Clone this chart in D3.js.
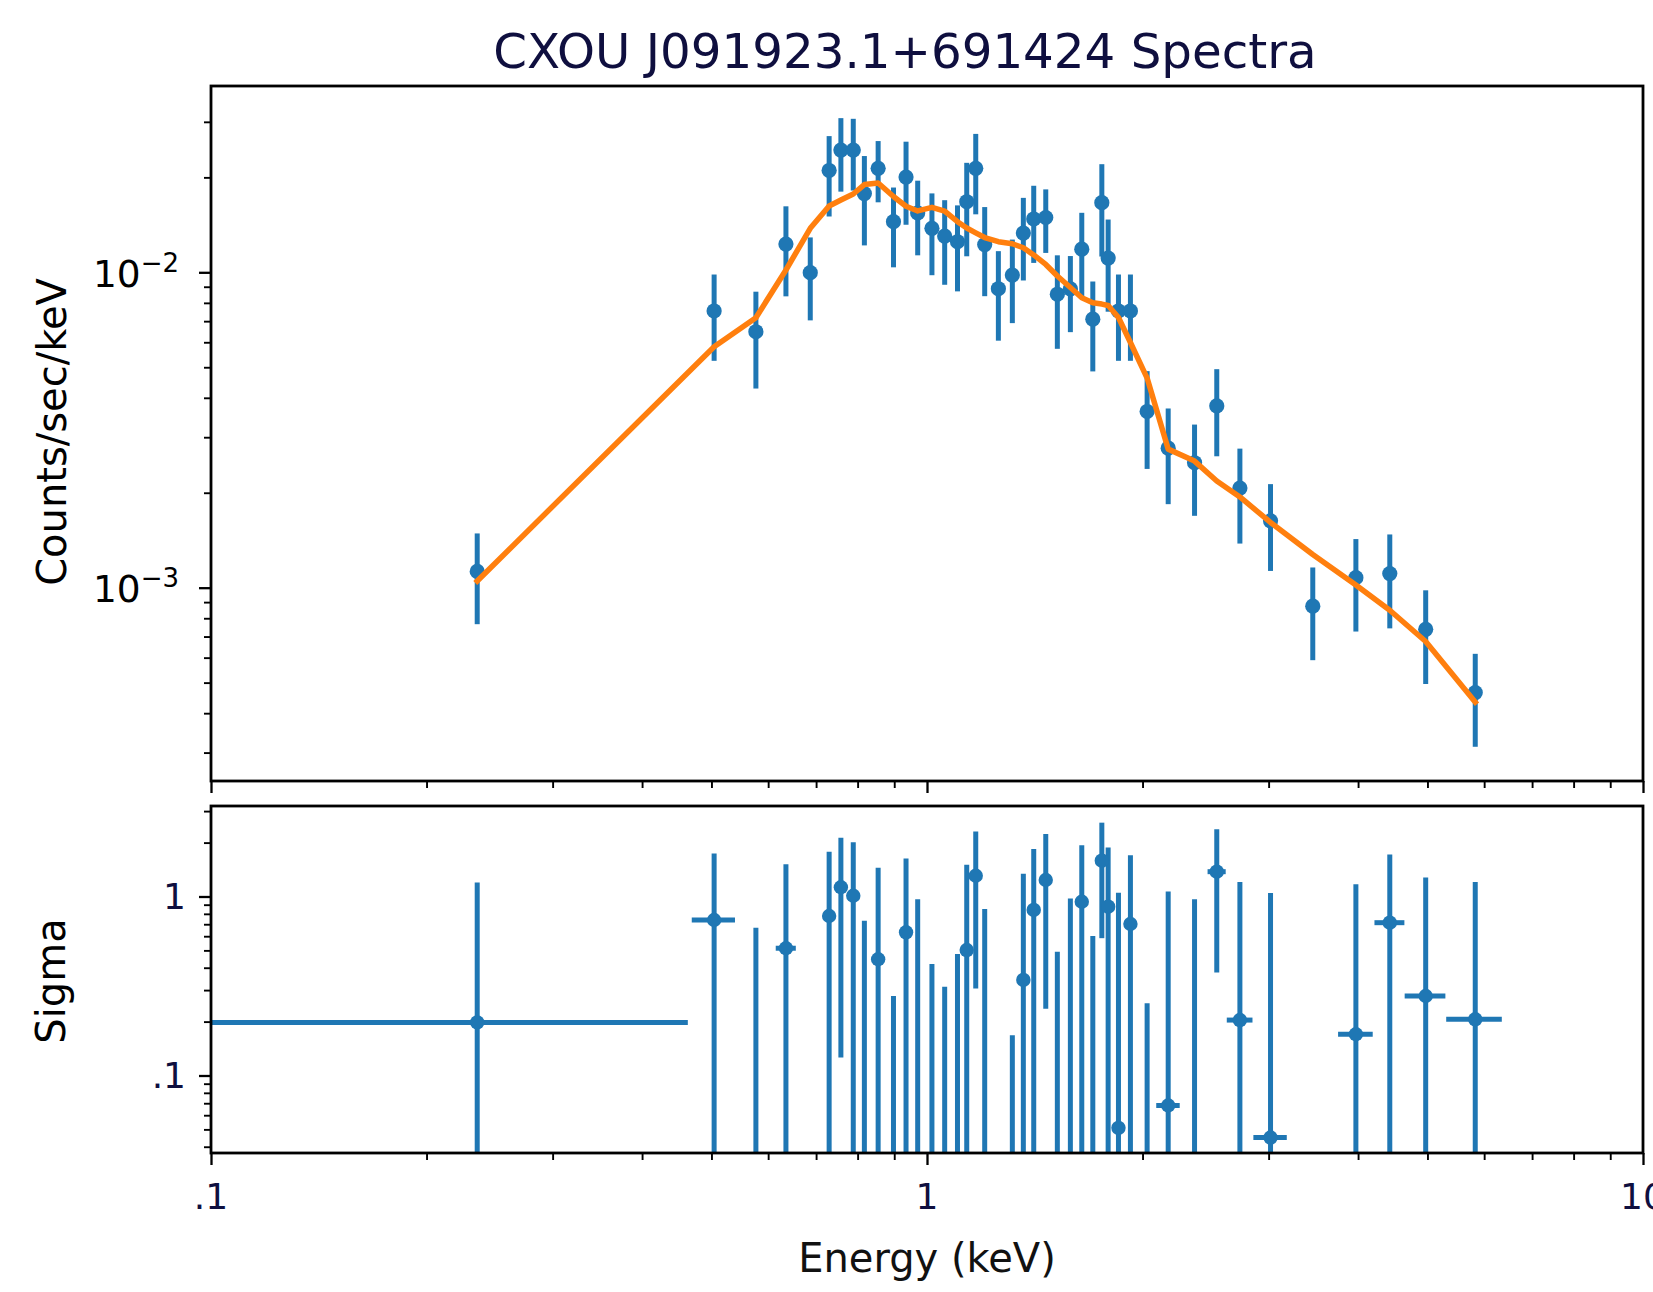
<!DOCTYPE html>
<html>
<head>
<meta charset="utf-8">
<script src="https://cdn.jsdelivr.net/npm/d3@7"></script>
<style>
  body { margin: 0; background: #ffffff; }
  svg { display: block; }
  text { font-family: "DejaVu Sans", sans-serif; }
</style>
</head>
<body>
<div id="chart"></div>
<script>
// ---------------- DATA ----------------
const energy = [0.2354, 0.5043, 0.5768, 0.6353, 0.6870, 0.7300, 0.7581, 0.7889, 0.8176, 0.8546,
                0.8978, 0.9348, 0.9705, 1.016, 1.0585, 1.1030, 1.1363, 1.1697, 1.2039, 1.2580,
                1.3158, 1.3632, 1.4095, 1.4651, 1.5207, 1.5858, 1.6450, 1.7044, 1.7546, 1.7906,
                1.8510, 1.9236, 2.0297, 2.1720, 2.3641, 2.5392, 2.7353, 3.0185, 3.4577, 3.9719,
                4.4294, 4.9716, 5.8305];
// half-width of the energy bins drawn in the residual panel (0 = hidden under the marker)
const energyErr = [0.228, 0.035, 0, 0.0205, 0, 0, 0, 0, 0, 0,
                   0, 0, 0, 0, 0, 0, 0, 0, 0, 0,
                   0, 0, 0, 0, 0, 0, 0, 0, 0, 0,
                   0, 0, 0, 0.082, 0, 0.074, 0.113, 0.162, 0, 0.221,
                   0.213, 0.325, 0.52];
const counts = [1.126e-3, 7.54e-3, 6.48e-3, 1.229e-2, 9.97e-3, 2.103e-2, 2.442e-2, 2.442e-2, 1.777e-2, 2.137e-2,
                1.447e-2, 2.005e-2, 1.542e-2, 1.379e-2, 1.303e-2, 1.250e-2, 1.674e-2, 2.137e-2, 1.225e-2, 8.87e-3,
                9.80e-3, 1.332e-2, 1.476e-2, 1.492e-2, 8.52e-3, 8.86e-3, 1.184e-2, 7.10e-3, 1.662e-2, 1.110e-2,
                7.54e-3, 7.54e-3, 3.62e-3, 2.77e-3, 2.49e-3, 3.77e-3, 2.07e-3, 1.630e-3, 8.74e-4, 1.076e-3,
                1.109e-3, 7.38e-4, 4.65e-4];
const countsErr = [0.36e-3, 2.30e-3, 2.20e-3, 3.90e-3, 2.93e-3, 6.0e-3, 6.4e-3, 6.25e-3, 5.6e-3, 4.7e-3,
                   4.1e-3, 5.9e-3, 4.1e-3, 4.0e-3, 3.9e-3, 3.8e-3, 5.5e-3, 6.1e-3, 3.85e-3, 2.8e-3,
                   2.9e-3, 3.9e-3, 4.05e-3, 3.4e-3, 2.8e-3, 2.4e-3, 3.6e-3, 2.25e-3, 5.4e-3, 3.6e-3,
                   2.3e-3, 2.3e-3, 1.24e-3, 0.93e-3, 0.80e-3, 1.16e-3, 0.69e-3, 0.50e-3, 0.285e-3, 0.35e-3,
                   0.366e-3, 0.243e-3, 0.152e-3];
const model = [1.050e-3, 5.81e-3, 7.18e-3, 1.017e-2, 1.379e-2, 1.623e-2, 1.695e-2, 1.771e-2, 1.898e-2, 1.919e-2,
               1.739e-2, 1.620e-2, 1.565e-2, 1.607e-2, 1.562e-2, 1.447e-2, 1.382e-2, 1.334e-2, 1.289e-2, 1.250e-2,
               1.232e-2, 1.196e-2, 1.135e-2, 1.059e-2, 9.73e-3, 8.95e-3, 8.30e-3, 8.01e-3, 7.93e-3, 7.85e-3,
               7.19e-3, 5.99e-3, 4.62e-3, 2.75e-3, 2.52e-3, 2.18e-3, 1.94e-3, 1.61e-3, 1.274e-3, 1.02e-3,
               8.48e-4, 6.75e-4, 4.34e-4];
// residuals in units of sigma (negative ones only show their upper error bar on the log axis)
const sigma = [0.198, 0.739, -0.33, 0.514, -1.30, 0.778, 1.126, 1.010, -0.267, 0.446,
               -0.722, 0.631, -0.036, -0.58, -0.687, -0.523, 0.502, 1.306, -0.148, -1.30,
               -0.832, 0.342, 0.841, 1.236, -0.508, -0.027, 0.935, -0.399, 1.585, 0.877,
               0.051, 0.702, -0.747, 0.068, -0.036, 1.376, 0.204, 0.045, -1.40, 0.170,
               0.714, 0.278, 0.206];
const SIGMA_ERR = 1;

const title = "CXOU J091923.1+691424 Spectra";
const xLabel = "Energy (keV)";
const yLabelTop = "Counts/sec/keV";
const yLabelBottom = "Sigma";
const xTickValues = [0.1, 1, 10];
const xTickLabels = [".1", "1", "10"];
const xMinorTicks = [0.2, 0.3, 0.4, 0.5, 0.6, 0.7, 0.8, 0.9, 2, 3, 4, 5, 6, 7, 8, 9];
const countTickValues = [1e-3, 1e-2];
const countTickExponents = ["\u22123", "\u22122"];
const countMinorTicks = [3e-4, 4e-4, 5e-4, 6e-4, 7e-4, 8e-4, 9e-4,
                         2e-3, 3e-3, 4e-3, 5e-3, 6e-3, 7e-3, 8e-3, 9e-3, 2e-2, 3e-2];
const sigmaTickValues = [0.1, 1];
const sigmaTickLabels = [".1", "1"];
const sigmaMinorTicks = [0.04, 0.05, 0.06, 0.07, 0.08, 0.09, 0.2, 0.3, 0.4, 0.5, 0.6, 0.7, 0.8, 0.9, 2, 3];

// ---------------- LAYOUT ----------------
const W = 1653, H = 1292;
const L = 211, R = 1643;
const topPanel = { top: 86, bottom: 781 };
const botPanel = { top: 806, bottom: 1153 };
const BLUE = "#1f77b4", ORANGE = "#ff7f0e", NAVY = "#0f0f3f";

const svg = d3.select("#chart").append("svg").attr("width", W).attr("height", H);

const x = d3.scaleLog().domain([0.1, 10]).range([L, R]);
const yTop = d3.scaleLog().domain([2.438e-4, 3.897e-2]).range([topPanel.bottom, topPanel.top]);
const yBot = d3.scaleLog().domain([0.0369, 3.203]).range([botPanel.bottom, botPanel.top]);

const defs = svg.append("defs");
defs.append("clipPath").attr("id", "clipTop").append("rect")
  .attr("x", L).attr("y", topPanel.top).attr("width", R - L).attr("height", topPanel.bottom - topPanel.top);
defs.append("clipPath").attr("id", "clipBot").append("rect")
  .attr("x", L).attr("y", botPanel.top).attr("width", R - L).attr("height", botPanel.bottom - botPanel.top);

const pts = energy.map((e, i) => ({ e, c: counts[i], ce: countsErr[i], m: model[i], s: sigma[i], xe: energyErr[i] }));

// ---------------- TOP PANEL ----------------
const gTop = svg.append("g").attr("clip-path", "url(#clipTop)");
gTop.selectAll("line.err").data(pts).enter().append("line")
  .attr("x1", d => x(d.e)).attr("x2", d => x(d.e))
  .attr("y1", d => yTop(d.c - d.ce)).attr("y2", d => yTop(d.c + d.ce))
  .attr("stroke", BLUE).attr("stroke-width", 5);
gTop.selectAll("circle").data(pts).enter().append("circle")
  .attr("cx", d => x(d.e)).attr("cy", d => yTop(d.c)).attr("r", 7.6).attr("fill", BLUE);
gTop.append("path").datum(pts)
  .attr("d", d3.line().x(d => x(d.e)).y(d => yTop(d.m)))
  .attr("fill", "none").attr("stroke", ORANGE).attr("stroke-width", 5.5)
  .attr("stroke-linejoin", "round").attr("stroke-linecap", "square");

// ---------------- BOTTOM PANEL ----------------
const gBot = svg.append("g").attr("clip-path", "url(#clipBot)");
const below = botPanel.bottom + 20;
gBot.selectAll("line.verr").data(pts.filter(d => d.s + SIGMA_ERR > 0)).enter().append("line")
  .attr("x1", d => x(d.e)).attr("x2", d => x(d.e))
  .attr("y1", d => (d.s - SIGMA_ERR > 0 ? yBot(d.s - SIGMA_ERR) : below))
  .attr("y2", d => yBot(d.s + SIGMA_ERR))
  .attr("stroke", BLUE).attr("stroke-width", 5);
const pos = pts.filter(d => d.s > 0);
gBot.selectAll("line.xerr").data(pos.filter(d => d.xe > 0)).enter().append("line")
  .attr("x1", d => x(d.e - d.xe)).attr("x2", d => x(d.e + d.xe))
  .attr("y1", d => yBot(d.s)).attr("y2", d => yBot(d.s))
  .attr("stroke", BLUE).attr("stroke-width", 5);
gBot.selectAll("circle").data(pos).enter().append("circle")
  .attr("cx", d => x(d.e)).attr("cy", d => yBot(d.s)).attr("r", 7.2).attr("fill", BLUE);

// ---------------- AXES ----------------
function styleAxis(g, w) {
  g.select(".domain").remove();
  g.selectAll(".tick line").attr("stroke", "#000").attr("stroke-width", w);
}
// x axes (both panels)
[topPanel.bottom, botPanel.bottom].forEach(yb => {
  const gMaj = svg.append("g").attr("transform", `translate(0,${yb})`)
    .call(d3.axisBottom(x).tickValues(xTickValues).tickSize(12).tickFormat(""));
  styleAxis(gMaj, 2.3);
  const gMin = svg.append("g").attr("transform", `translate(0,${yb})`)
    .call(d3.axisBottom(x).tickValues(xMinorTicks).tickSize(7).tickFormat(""));
  styleAxis(gMin, 1.9);
});
svg.append("g").selectAll("text").data(xTickValues).enter().append("text")
  .attr("x", d => x(d)).attr("y", 1209).attr("text-anchor", "middle")
  .attr("font-size", 36).attr("fill", NAVY)
  .text((d, i) => xTickLabels[i]);

// y axis top
const gyT = svg.append("g").attr("transform", `translate(${L},0)`)
  .call(d3.axisLeft(yTop).tickValues(countTickValues).tickSize(12).tickFormat(""));
styleAxis(gyT, 2.3);
const gyTm = svg.append("g").attr("transform", `translate(${L},0)`)
  .call(d3.axisLeft(yTop).tickValues(countMinorTicks).tickSize(7).tickFormat(""));
styleAxis(gyTm, 1.9);
countTickValues.forEach((v, i) => {
  const t = svg.append("text").attr("x", L - 32).attr("y", yTop(v) + 14.5)
    .attr("text-anchor", "end").attr("fill", "#000");
  t.append("tspan").attr("font-size", 37.5).text("10");
  t.append("tspan").attr("font-size", 26).attr("dy", -15).text(countTickExponents[i]);
});

// y axis bottom
const gyB = svg.append("g").attr("transform", `translate(${L},0)`)
  .call(d3.axisLeft(yBot).tickValues(sigmaTickValues).tickSize(12).tickFormat(""));
styleAxis(gyB, 2.3);
const gyBm = svg.append("g").attr("transform", `translate(${L},0)`)
  .call(d3.axisLeft(yBot).tickValues(sigmaMinorTicks).tickSize(7).tickFormat(""));
styleAxis(gyBm, 1.9);
svg.append("g").selectAll("text").data(sigmaTickValues).enter().append("text")
  .attr("x", L - 25).attr("y", d => yBot(d) + 13).attr("text-anchor", "end")
  .attr("font-size", 36).attr("fill", NAVY)
  .text((d, i) => sigmaTickLabels[i]);

// frames
[topPanel, botPanel].forEach(p => {
  svg.append("rect").attr("x", L).attr("y", p.top).attr("width", R - L).attr("height", p.bottom - p.top)
    .attr("fill", "none").attr("stroke", "#000").attr("stroke-width", 2.8);
});

// labels
svg.append("text").attr("x", 905).attr("y", 68).attr("text-anchor", "middle")
  .attr("font-size", 48.3).attr("fill", NAVY).text(title);
svg.append("text").attr("x", (L + R) / 2).attr("y", 1272).attr("text-anchor", "middle")
  .attr("font-size", 40).attr("fill", "#111").text(xLabel);
svg.append("text").attr("transform", "translate(66,432) rotate(-90)").attr("text-anchor", "middle")
  .attr("font-size", 40).attr("fill", "#000").text(yLabelTop);
svg.append("text").attr("transform", "translate(65,981) rotate(-90)").attr("text-anchor", "middle")
  .attr("font-size", 40).attr("fill", "#000").text(yLabelBottom);
</script>
</body>
</html>
